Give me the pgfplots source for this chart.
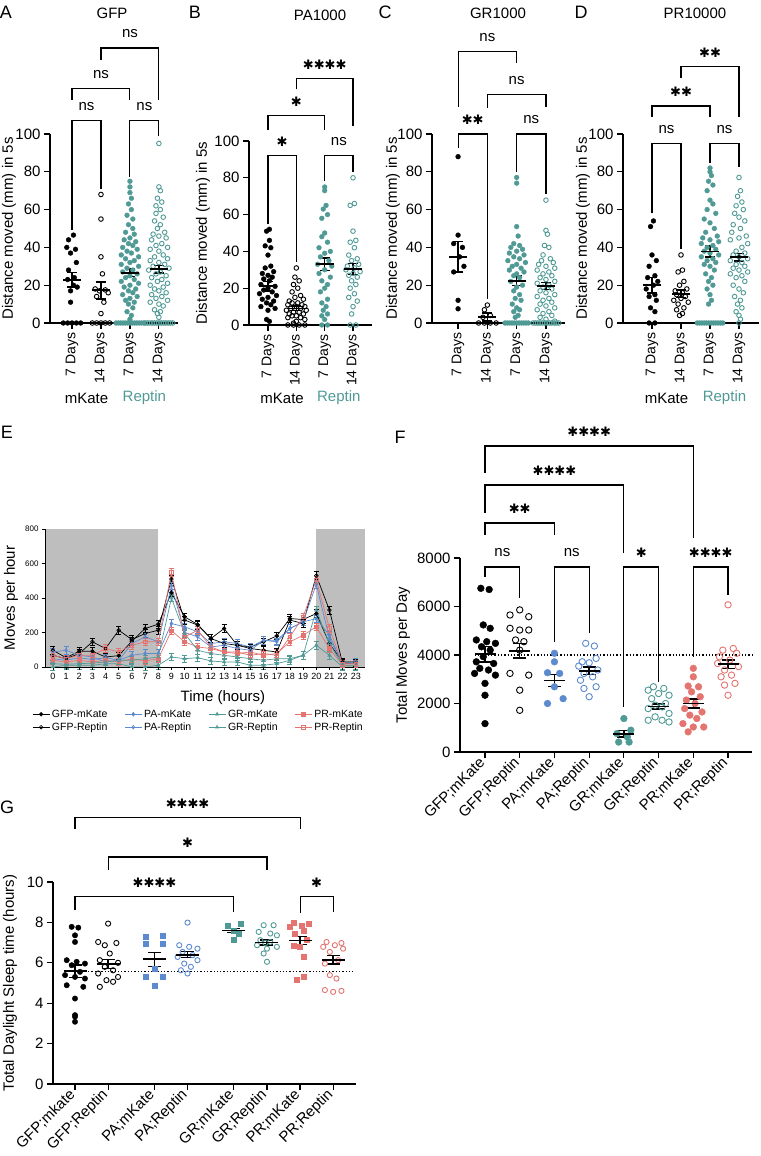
\documentclass[border=0pt]{standalone}
\usepackage{fontspec}
\setmainfont{Liberation Sans}
\newfontfamily\djv{DejaVu Sans}
\usepackage{pgfplots}
\usepackage{pgfplotstable}
\pgfplotsset{compat=1.18}
\definecolor{tealc}{RGB}{80,154,150}
\definecolor{bluec}{RGB}{92,138,206}
\definecolor{salc}{RGB}{228,116,112}
\definecolor{shade}{RGB}{190,190,190}
\newcommand{\fs}{\fontsize{15}{17}\selectfont}
\newcommand{\st}[1]{{\djv\fontsize{13}{13}\selectfont #1}}
% bracket: x1, x2, ybar, yleft, yright, xmid, text
\newcommand{\brk}[7]{%
  \draw[line width=1.1pt] (axis cs:#1,#4) -- (axis cs:#1,#3) -- (axis cs:#2,#3) -- (axis cs:#2,#5);
  \node[font=\fs, inner sep=0pt, yshift=14pt] at (axis cs:#6,#3) {#7};}

\pgfplotsset{
  gp/.style={scale only axis, axis lines*=left, clip=false, anchor=south west,
    axis line style={line width=1.2pt}, tick style={line width=1.2pt, black},
    tick align=outside, major tick length=6pt,
    tick label style={font=\fs}, label style={font=\fs},
    /pgf/number format/assume math mode=true, /pgf/number format/1000 sep={},
    scaled y ticks=false},
  toppanel/.style={gp, ymin=0, ymax=100, ytick={0,20,40,60,80,100},
    xtick={1,2,3,4}, xticklabels={7 Days,14 Days,7 Days,14 Days},
    x tick label style={rotate=90, anchor=east, font=\fontsize{14}{14}\selectfont},
    ylabel={Distance moved (mm) in 5s}},
  catpanel/.style={gp, x tick label style={rotate=45, anchor=east}},
  pf/.style 2 args={only marks, mark=*, mark size=#2, color=#1, mark options={draw=#1, fill=#1}},
  po/.style 2 args={only marks, mark=o, mark size=#2, color=#1, mark options={draw=#1, line width=0.9pt}},
  ps/.style 2 args={only marks, mark=square*, mark size=#2, color=#1, mark options={draw=#1, fill=#1}},
  msem/.style 2 args={only marks, black, mark=-, mark size=#1, mark options={line width=1.8pt, black},
    error bars/y dir=both, error bars/y explicit,
    error bars/error bar style={line width=1.5pt, black},
    error bars/error mark options={rotate=90, line width=1.5pt, black, mark size=#2}},
  el/.style 2 args={color=#1, mark=#2, line width=0.7pt, mark size=1.8pt,
    mark options={solid, line width=0.7pt, fill=#1},
    error bars/y dir=both, error bars/y fixed=22,
    error bars/error bar style={line width=0.6pt},
    error bars/error mark options={rotate=90, line width=0.6pt, mark size=2.5pt}},
}

\pgfplotstableread{
h gm pm rm prm gr pr rr prr
0 97 48 0 39 68 87 19 68
1 54 39 10 29 48 97 16 48
2 91 54 10 39 78 68 19 68
3 91 43 10 29 146 58 23 68
4 58 54 19 39 107 29 29 107
5 66 39 19 29 213 39 39 87
6 150 68 0 48 159 136 39 126
7 223 78 0 35 194 175 48 146
8 248 78 10 48 213 146 58 146
9 430 252 58 210 510 470 400 550
10 291 233 48 146 272 200 194 175
11 246 204 54 116 243 175 97 213
12 165 136 35 107 165 116 78 116
13 223 146 29 87 136 126 68 87
14 126 136 29 78 126 107 58 87
15 116 116 10 87 107 97 48 68
16 146 155 10 68 97 155 39 78
17 180 155 19 78 87 146 48 68
18 281 223 39 146 272 223 48 175
19 275 262 68 184 252 262 68 291
20 310 280 126 233 530 480 330 505
21 136 184 68 107 330 165 136 223
22 29 19 0 10 20 19 10 19
23 29 29 0 10 25 29 10 19
}\Edata

\begin{document}
\begin{tikzpicture}
\useasboundingbox (0pt,0pt) rectangle (760pt,1156pt);

% panel letters and titles
\node[font=\fontsize{18}{18}\selectfont] at (6pt,1144pt) {A};
\node[font=\fontsize{18}{18}\selectfont] at (195pt,1144pt) {B};
\node[font=\fontsize{18}{18}\selectfont] at (385pt,1144pt) {C};
\node[font=\fontsize{18}{18}\selectfont] at (581pt,1144pt) {D};
\node[font=\fontsize{18}{18}\selectfont] at (7pt,724pt) {E};
\node[font=\fontsize{18}{18}\selectfont] at (400pt,719pt) {F};
\node[font=\fontsize{18}{18}\selectfont] at (7pt,349pt) {G};
\node[font=\fs] at (112pt,1143pt) {GFP};
\node[font=\fs] at (320pt,1141pt) {PA1000};
\node[font=\fs] at (498pt,1143pt) {GR1000};
\node[font=\fs] at (695pt,1143pt) {PR10000};

% ---------------- A
\begin{axis}[toppanel, at={(50pt,833pt)}, width=128pt, height=189pt, xmin=0.24, xmax=4.66,
  ylabel style={at={(axis description cs:-0.32,0.5)}, anchor=center}]
\addplot[pf={black}{2.4pt}] coordinates {(1.05,46.5)(0.88,44)(0.82,40)(1.12,39)(0.95,37)(1.15,32)(0.88,28)(1.08,24)(0.85,23)(1.05,20)(1.18,19)(0.95,17)(0.95,11)(0.7,0)(0.85,0)(1,0)(1.15,0)(1.3,0)};
\addplot[po={black}{2.3pt}] coordinates {(2,68)(2,55)(2,35)(2.05,26)(1.8,18)(2.15,17.5)(1.95,17)(2.25,16)(1.85,14)(2.1,11)(2,5)(1.7,0)(1.85,0)(2,0)(2.15,0)(2.3,0)};
\addplot[pf={tealc}{2.4pt}] coordinates {(3,75)(3,72)(3,69)(3.05,66)(2.95,63)(3.05,60)(2.9,57)(3.1,55)(2.95,52)(3.1,50)(2.85,48)(3.15,47)(3,45)(2.8,44)(3.2,43)(2.95,42)(3.1,41)(2.75,40)(3.25,39)(2.9,38)(3.05,37)(2.7,36)(3.3,35)(2.85,34)(3.15,33)(3,32)(2.7,31)(3.3,30)(2.9,29)(3.1,28)(2.75,27)(3.25,26)(3,25)(2.85,24)(3.15,23)(2.7,22)(3.3,21)(3,20)(2.8,19)(3.2,18)(2.95,17)(3.1,16)(2.75,15)(3.25,14)(3,13)(2.85,12)(3.15,11)(2.95,10)(3.1,8)(2.9,6)(3.05,4)(3,2)
(2.52,0)(2.6,0)(2.68,0)(2.76,0)(2.84,0)(2.92,0)(3,0)(3.08,0)(3.16,0)(3.24,0)(3.32,0)(3.4,0)(3.48,0)};
\addplot[po={tealc}{2.3pt}] coordinates {(4,95)(4,72)(4.05,70)(3.95,66)(4.1,64)(3.9,62)(4.05,60)(3.9,58)(4.15,56)(3.85,54)(4.05,52)(3.95,50)(4.2,48)(3.8,47)(4,46)(4.25,45)(3.75,44)(4.1,42)(3.9,41)(4.3,40)(3.7,39)(4,38)(4.15,36)(3.85,35)(4.3,34)(3.7,33)(4,32)(4.2,31)(3.8,30)(4.35,29)(3.65,28)(4.05,27)(3.9,26)(4.25,25)(3.75,24)(4.1,23)(3.95,22)(4.3,21)(3.7,20)(4.15,19)(3.85,18)(4,17)(4.25,16)(3.75,15)(4.1,14)(3.9,13)(4.3,12)(3.7,11)(4,10)(4.15,9)(3.85,7)(4.05,6)(3.95,5)(4,3)
(3.52,0)(3.6,0)(3.68,0)(3.76,0)(3.84,0)(3.92,0)(4,0)(4.08,0)(4.16,0)(4.24,0)(4.32,0)(4.4,0)(4.48,0)};
\addplot[msem={9pt}{5pt}] coordinates {(1,22.8) +- (0,3.8) (2,17.3) +- (0,4.5) (3,26.5) +- (0,2) (4,28.5) +- (0,2)};
\brk{1}{2}{107}{49}{71}{1.5}{ns}
\brk{3}{4}{107}{77.5}{99}{3.5}{ns}
\brk{1}{3}{124}{118}{118}{2}{ns}
\brk{2}{4}{145.5}{139}{118}{3}{ns}
\node[font=\fs] at (axis cs:1.5,0) [yshift=-75pt] {mKate};
\node[font=\fs, text=tealc] at (axis cs:3.5,0) [yshift=-75pt] {Reptin};
\end{axis}

% ---------------- B
\begin{axis}[toppanel, at={(249pt,831pt)}, width=123pt, height=184pt, xmin=0.33, xmax=4.67,
  ylabel style={at={(axis description cs:-0.374,0.5)}, anchor=center}]
\addplot[pf={black}{2.4pt}] coordinates {(1.05,52)(0.95,51)(1.05,46)(0.9,43)(1.1,42)(1,38)(1.1,32)(0.9,31)(1.2,29)(0.8,28)(1,27)(1.15,26)(0.85,25)(1.05,24)(0.75,22)(1.25,21)(1,20)(0.85,19)(1.15,18)(0.7,17)(1.3,16)(1,15)(0.8,14)(1.2,13)(0.95,12)(1.1,11)(0.75,10)(1.25,9)(1,8)(0.95,3)(1.05,2)};
\addplot[po={black}{2.3pt}] coordinates {(2,31)(1.95,26)(2.1,24)(1.9,22)(2.05,20)(1.85,18)(2.15,16)(1.95,15)(2.25,14)(1.75,13)(2.05,12)(1.85,12)(2.2,11)(1.7,11)(2.3,10)(2,10)(1.8,9)(2.15,9)(1.65,8)(2.35,8)(1.9,7)(2.1,7)(1.75,6)(2.25,6)(2,5)(1.85,5)(2.15,4)(1.7,4)(2.3,3)(2,2)(1.9,1)(1.7,0)(1.9,0)(2.1,0)(2.3,0)};
\addplot[pf={tealc}{2.4pt}] coordinates {(3,75)(3,73)(3.05,65)(2.95,63)(3.1,60)(2.9,58)(3,50)(2.9,48)(3.1,45)(2.8,42)(3.2,40)(3,39)(2.85,37)(3.15,35)(2.75,33)(3.25,32)(3,30)(2.8,28)(3.2,26)(2.9,24)(3.1,22)(3,20)(2.85,18)(3.1,14)(2.9,12)(3.05,10)(2.95,8)(3.1,6)(2.9,5)(3,3)(2.9,0)(3.1,0)};
\addplot[po={tealc}{2.3pt}] coordinates {(4,80)(4.05,66)(3.9,65)(4,51)(4.1,46)(3.9,45)(4.05,42)(3.85,38)(4.15,36)(3.95,35)(4.2,33)(3.8,32)(4.05,31)(3.75,30)(4.25,29)(4,28)(3.85,27)(4.15,26)(3.95,24)(4.1,22)(3.9,20)(4.05,17)(3.85,15)(4.15,13)(4,10)(3.95,6)(3.9,0)(4.1,0)};
\addplot[msem={9pt}{5pt}] coordinates {(1,21) +- (0,2.5) (2,9) +- (0,1.2) (3,33) +- (0,3.3) (4,30.5) +- (0,3)};
\brk{1}{2}{92}{55}{34}{1.5}{\st{✱}}
\brk{3}{4}{92}{78}{83}{3.5}{ns}
\brk{1}{3}{113.8}{106}{106}{2}{\st{✱}}
\brk{2}{4}{134}{128}{108}{3}{\st{✱✱✱✱}}
\node[font=\fs] at (axis cs:1.5,0) [yshift=-73pt] {mKate};
\node[font=\fs, text=tealc] at (axis cs:3.5,0) [yshift=-73pt] {Reptin};
\end{axis}

% ---------------- C
\begin{axis}[toppanel, at={(432pt,833pt)}, width=133pt, height=189pt, xmin=0.11, xmax=4.65,
  ylabel style={at={(axis description cs:-0.293,0.5)}, anchor=center}]
\addplot[pf={black}{2.4pt}] coordinates {(1,88)(1,46.5)(0.85,42)(1.15,40)(1.05,35)(1.2,30)(0.85,27)(1,12)(1,7.5)};
\addplot[po={black}{2.3pt}] coordinates {(2,9.5)(1.9,7)(2.1,4)(1.85,3)(1.7,0)(1.9,0)(2.1,0)(2.3,0)};
\addplot[pf={tealc}{2.4pt}] coordinates {(3,77)(3,74)(3,51)(3.05,46)(2.9,42)(3.1,41)(2.8,40)(3.2,39)(3,38)(2.75,37)(3.25,36)(2.9,35)(3.1,34)(2.7,33)(3.3,32)(3,31)(2.85,30)(3.15,29)(2.75,28)(3.25,27)(3,26)(2.9,25)(3.1,24)(2.8,22)(3.2,20)(3,19)(2.9,17)(3.1,15)(2.95,13)(3.15,12)(2.85,10)(3,8)(3.1,7)(2.9,6)(3.05,4)(2.95,3)
(2.6,0)(2.68,0)(2.76,0)(2.84,0)(2.92,0)(3,0)(3.08,0)(3.16,0)(3.24,0)(3.32,0)(3.4,0)};
\addplot[po={tealc}{2.3pt}] coordinates {(4,65)(4,49)(4.05,47)(3.95,41)(4.1,40)(3.9,36)(4.15,34)(3.85,33)(4.25,32)(3.75,31)(4,30)(4.3,29)(3.7,28)(4.1,27)(3.9,26)(4.2,25)(3.8,24)(4,23)(4.3,22)(3.7,21)(4.1,20)(3.9,19)(4.2,18)(3.8,17)(4,16)(4.3,15)(3.7,14)(4.1,13)(3.9,12)(4.2,11)(3.8,10)(4,9)(4.3,8)(3.7,7)(4.1,6)(3.9,5)(4.2,4)(3.8,3)(4,2)(4.3,1)
(3.56,0)(3.64,0)(3.72,0)(3.8,0)(3.88,0)(3.96,0)(4.04,0)(4.12,0)(4.2,0)(4.28,0)(4.36,0)(4.44,0)};
\addplot[msem={9pt}{5pt}] coordinates {(1,35) +- (0,8) (2,3.2) +- (0,2.2) (3,22.3) +- (0,2.5) (4,19.6) +- (0,1.8)};
\brk{1}{2}{100}{92.4}{12.5}{1.5}{\st{✱✱}}
\brk{3}{4}{100}{80}{68}{3.5}{ns}
\brk{2}{4}{121}{114}{114.5}{3}{ns}
\brk{1}{3}{143.6}{114.5}{137.8}{2}{ns}
\end{axis}

% ---------------- D
\begin{axis}[toppanel, at={(623pt,833pt)}, width=136pt, height=189pt, xmin=0, xmax=4.69,
  ylabel style={at={(axis description cs:-0.294,0.5)}, anchor=center}]
\addplot[pf={black}{2.4pt}] coordinates {(1.05,54)(0.95,51)(1,36)(1.15,33)(0.9,30)(1.1,25)(0.85,24)(1.2,22)(1.05,20)(0.8,18)(1.1,15)(0.9,14)(1.15,12)(0.95,8)(1.1,6)(0.9,0)(1.1,0)};
\addplot[po={black}{2.3pt}] coordinates {(2,36)(2.05,28)(1.9,27)(2.1,22)(1.95,20)(2.2,18)(1.8,17)(2.05,16)(1.85,15)(2.15,14)(2,13)(1.75,12)(2.25,11)(1.9,10)(2.1,8)(1.85,7)(2.05,5)(1.95,4)};
\addplot[pf={tealc}{2.4pt}] coordinates {(3,82)(3,80)(3.05,78)(2.95,75)(3.1,73)(2.9,70)(3,65)(3.1,63)(2.9,60)(3.2,58)(2.8,55)(3,53)(3.15,50)(2.85,48)(3.25,46)(2.75,45)(3,44)(3.3,43)(2.7,42)(3.1,41)(2.9,40)(3.2,39)(2.8,38)(3,37)(3.3,36)(2.7,35)(3.1,34)(2.9,33)(3.2,32)(2.8,31)(3,30)(3.15,28)(2.85,26)(3.05,24)(2.95,22)(3.1,20)(2.9,18)(3,15)(3.05,12)(2.95,10)
(2.56,0)(2.64,0)(2.72,0)(2.8,0)(2.88,0)(2.96,0)(3.04,0)(3.12,0)(3.2,0)(3.28,0)(3.36,0)(3.44,0)};
\addplot[po={tealc}{2.3pt}] coordinates {(4,77)(4.05,70)(3.95,67)(4.1,64)(3.9,62)(4.15,60)(3.85,58)(4,56)(4.2,54)(3.8,52)(4.05,50)(3.75,48)(4.25,46)(4,45)(3.7,44)(4.3,42)(4.1,40)(3.9,38)(4.2,37)(3.8,36)(4,35)(4.3,34)(3.7,33)(4.1,32)(3.9,31)(4.2,30)(3.8,29)(4,28)(4.3,27)(3.7,26)(4.1,25)(3.9,24)(4.2,22)(3.8,20)(4,18)(4.15,16)(3.85,14)(4.05,12)(3.95,10)(4.1,8)(3.9,6)(4,4)(4.05,2)(4,0)};
\addplot[msem={9pt}{5pt}] coordinates {(1,20) +- (0,4.2) (2,15.5) +- (0,2) (3,37.8) +- (0,3) (4,34.8) +- (0,2)};
\brk{1}{2}{95}{58}{39}{1.5}{ns}
\brk{3}{4}{95}{84.5}{82.7}{3.5}{ns}
\brk{1}{3}{114.8}{109}{109}{2}{\st{✱✱}}
\brk{2}{4}{135.7}{129.5}{109}{3}{\st{✱✱}}
\node[font=\fs] at (axis cs:1.5,0) [yshift=-75pt] {mKate};
\node[font=\fs, text=tealc] at (axis cs:3.5,0) [yshift=-75pt] {Reptin};
\end{axis}

% ---------------- E
\begin{axis}[gp, at={(45pt,489pt)}, width=320pt, height=138pt, axis on top,
  xmin=-0.6, xmax=23.7, ymin=0, ymax=800, xtick={0,1,...,23}, ytick={0,200,400,600,800},
  axis line style={line width=0.7pt}, tick style={line width=0.7pt, black}, major tick length=3pt,
  x tick label style={font=\fontsize{9}{9}\selectfont},
  y tick label style={font=\fontsize{8}{8}\selectfont},
  xlabel={Time (hours)}, ylabel={Moves per hour},
  xlabel style={at={(axis description cs:0.556,-0.225)}, anchor=center},
  ylabel style={at={(axis description cs:-0.106,0.5)}, anchor=center},
  legend style={at={(axis description cs:-0.05,-0.28)}, anchor=north west, draw=none, fill=none,
    font=\fontsize{10.5}{12}\selectfont, legend columns=4,
    /tikz/every even column/.append style={column sep=15pt}}]
\addplot[draw=none, fill=shade, forget plot] coordinates {(-0.6,0) (-0.6,800) (8,800) (8,0)};
\addplot[draw=none, fill=shade, forget plot] coordinates {(20,0) (20,800) (23.7,800) (23.7,0)};
\addplot[el={black}{*}] table[x=h, y=gm] {\Edata};
\addlegendentry{GFP-mKate}
\addplot[el={bluec}{diamond*}] table[x=h, y=pm] {\Edata};
\addlegendentry{PA-mKate}
\addplot[el={tealc}{triangle*}] table[x=h, y=rm] {\Edata};
\addlegendentry{GR-mKate}
\addplot[el={salc}{square*}] table[x=h, y=prm] {\Edata};
\addlegendentry{PR-mKate}
\addplot[el={black}{o}] table[x=h, y=gr] {\Edata};
\addlegendentry{GFP-Reptin}
\addplot[el={bluec}{diamond}] table[x=h, y=pr] {\Edata};
\addlegendentry{PA-Reptin}
\addplot[el={tealc}{triangle}] table[x=h, y=rr] {\Edata};
\addlegendentry{GR-Reptin}
\addplot[el={salc}{square}] table[x=h, y=prr] {\Edata};
\addlegendentry{PR-Reptin}
\end{axis}

% ---------------- F
\begin{axis}[catpanel, at={(460pt,404pt)}, width=292pt, height=194pt, xmin=0.28, xmax=8.69,
  ymin=0, ymax=8000, ytick={0,2000,4000,6000,8000}, xtick={1,...,8},
  xticklabels={GFP;mKate,GFP;Reptin,PA;mKate,PA;Reptin,GR;mKate,GR;Reptin,PR;mKate,PR;Reptin},
  ylabel={Total Moves per Day},
  ylabel style={at={(axis description cs:-0.195,0.5)}, anchor=center}]
\addplot[black, dotted, line width=1.3pt] coordinates {(0.7,4000) (8.69,4000)};
\addplot[pf={black}{3.4pt}] coordinates {(0.88,6750)(1.12,6700)(0.95,5240)(1.15,5100)(0.75,4620)(1.05,4550)(1.3,4480)(0.9,4340)(1.15,4200)(0.95,3930)(0.75,3720)(1.25,3650)(0.85,3450)(1.1,3380)(0.7,3240)(1.3,3170)(1,2830)(1,2340)(1,1170)};
\addplot[po={black}{3.2pt}] coordinates {(2,5860)(1.72,5650)(2.26,5580)(1.72,5100)(2,5030)(2.26,5030)(1.88,4620)(2.12,4550)(2,4200)(1.72,3240)(2.26,3170)(2,2550)(2,1720)};
\addplot[pf={bluec}{3.4pt}] coordinates {(3,4070)(3,3720)(2.8,3270)(3.15,3240)(3,2690)(3.25,2200)(2.8,2000)};
\addplot[po={bluec}{3.2pt}] coordinates {(3.9,4480)(4.15,4370)(4.2,3860)(3.8,3720)(4,3680)(3.7,3540)(4.25,3380)(3.85,3240)(4.1,3100)(3.75,2960)(4.2,2690)(3.85,2620)(4,2280)};
\addplot[pf={tealc}{3.4pt}] coordinates {(5,1380)(5.2,900)(4.8,760)(5.1,620)(4.85,410)(5.15,410)};
\addplot[po={tealc}{3.2pt}] coordinates {(5.85,2690)(6.15,2620)(5.7,2550)(6,2410)(6.3,2340)(5.8,2200)(6.2,2000)(5.9,1930)(6.1,1860)(5.7,1790)(6.3,1590)(5.9,1450)(5.7,1310)(6.1,1310)(6.3,1240)};
\addplot[pf={salc}{3.4pt}] coordinates {(7,3450)(7,3100)(6.85,2720)(7.15,2690)(6.95,2480)(7.2,2280)(6.8,2140)(7.05,2000)(6.75,1790)(7.25,1650)(6.9,1520)(7.1,1380)(6.7,1170)(7.3,1030)(7,1030)(6.85,830)};
\addplot[po={salc}{3.2pt}] coordinates {(8,6070)(8.15,4270)(7.85,4200)(8.25,4070)(7.75,3930)(8.05,3790)(7.7,3650)(8.3,3520)(7.9,3380)(8.1,3170)(7.8,3100)(8.2,2830)(7.9,2760)(8,2340)};
\addplot[msem={10.5pt}{6.5pt}] coordinates {(1,4030) +- (0,320) (2,4170) +- (0,300) (3,2950) +- (0,250) (4,3350) +- (0,150) (5,750) +- (0,130) (6,1880) +- (0,100) (7,2000) +- (0,180) (8,3620) +- (0,180)};
\brk{1}{2}{7630}{7217}{6351}{1.5}{ns}
\brk{3}{4}{7630}{4536}{4907}{3.5}{ns}
\brk{5}{6}{7630}{1856}{2887}{5.5}{\st{✱}}
\brk{7}{8}{7630}{3918}{6475}{7.5}{\st{✱✱✱✱}}
\brk{1}{3}{9444}{8950}{8950}{2}{\st{✱✱}}
\brk{1}{5}{11010}{9856}{8206}{3}{\st{✱✱✱✱}}
\brk{1}{7}{12620}{11506}{8825}{4}{\st{✱✱✱✱}}
\end{axis}

% ---------------- G
\begin{axis}[catpanel, at={(53pt,72pt)}, width=303pt, height=202pt, xmin=0.335, xmax=9.49,
  ymin=0, ymax=10, ytick={0,2,4,6,8,10}, xtick={1,2,3.4,4.4,5.8,6.8,7.8,8.8},
  xticklabels={GFP;mkate,GFP;Reptin,PA;mKate,PA;Reptin,GR;mKate,GR;Reptin,PR;mKate,PR;Reptin},
  ylabel={Total Daylight Sleep time (hours)},
  ylabel style={at={(axis description cs:-0.142,0.5)}, anchor=center}]
\addplot[black, dotted, line width=1.3pt] coordinates {(0.7,5.58) (9.4,5.58)};
\addplot[pf={black}{2.7pt}] coordinates {(0.9,7.78)(1.1,7.74)(1,7.36)(1,7.03)(0.75,6.13)(1.05,6.05)(1.3,5.96)(0.9,5.88)(1.15,5.55)(0.7,5.39)(1,5.30)(1.3,5.22)(0.75,4.89)(1.25,4.81)(1,4.23)(1,3.41)(1,3.33)(1,3.08)};
\addplot[po={black}{2.6pt}] coordinates {(2,7.94)(1.7,7.03)(2.25,6.98)(1.9,6.87)(2.05,6.46)(1.75,6.13)(2.3,6.0)(1.9,5.80)(2.15,5.63)(1.7,5.47)(2.3,5.30)(1.95,5.14)(2.15,5.06)(1.75,4.81)};
\addplot[ps={bluec}{2.5pt}] coordinates {(3.15,7.28)(3.65,7.33)(3.15,6.95)(3.65,6.95)(3.4,5.72)(3.15,5.30)(3.65,5.30)(3.4,4.89)};
\addplot[po={bluec}{2.6pt}] coordinates {(4.4,7.99)(4.15,6.87)(4.45,6.79)(4.7,6.7)(4.25,6.54)(4.55,6.38)(4.1,6.29)(4.7,6.13)(4.3,5.96)(4.5,5.80)(4.2,5.63)(4.4,5.47)};
\addplot[ps={tealc}{2.5pt}] coordinates {(6.0,7.94)(5.6,7.86)(5.8,7.61)(5.95,7.45)(5.8,7.12)};
\addplot[po={tealc}{2.6pt}] coordinates {(7.0,7.86)(6.7,7.86)(6.55,7.53)(6.9,7.45)(7.1,7.36)(6.6,7.12)(6.9,7.03)(6.75,6.98)(6.5,6.87)(7.1,6.79)(6.8,6.70)(6.7,6.46)(6.8,6.05)};
\addplot[ps={salc}{2.5pt}] coordinates {(7.6,7.97)(8.05,7.94)(7.85,7.86)(7.5,7.78)(7.9,7.61)(7.65,7.45)(8.0,7.12)(7.6,6.87)(7.8,6.79)(7.9,6.29)(7.9,5.30)(7.7,5.17)};
\addplot[po={salc}{2.6pt}] coordinates {(8.6,7.03)(9.05,6.98)(8.85,6.87)(8.5,6.79)(9.1,6.7)(8.7,6.54)(8.95,6.13)(8.55,5.96)(8.7,5.39)(8.9,5.22)(8.55,4.65)(9.05,4.61)(8.8,4.56)};
\addplot[msem={11.5pt}{6.5pt}] coordinates {(1,5.58) +- (0,0.3) (2,5.95) +- (0,0.22) (3.4,6.17) +- (0,0.35) (4.4,6.4) +- (0,0.15) (5.8,7.6) +- (0,0.1) (6.8,7.0) +- (0,0.12) (7.8,7.1) +- (0,0.2) (8.8,6.15) +- (0,0.22)};
\brk{1}{5.8}{9.26}{8.6}{8.5}{3.4}{\st{✱✱✱✱}}
\brk{7.8}{8.8}{9.26}{8.47}{8.5}{8.3}{\st{✱}}
\brk{2}{6.8}{11.24}{10.6}{10.6}{4.4}{\st{✱}}
\brk{1}{7.8}{13.2}{12.6}{12.6}{4.4}{\st{✱✱✱✱}}
\end{axis}
\end{tikzpicture}
\end{document}
